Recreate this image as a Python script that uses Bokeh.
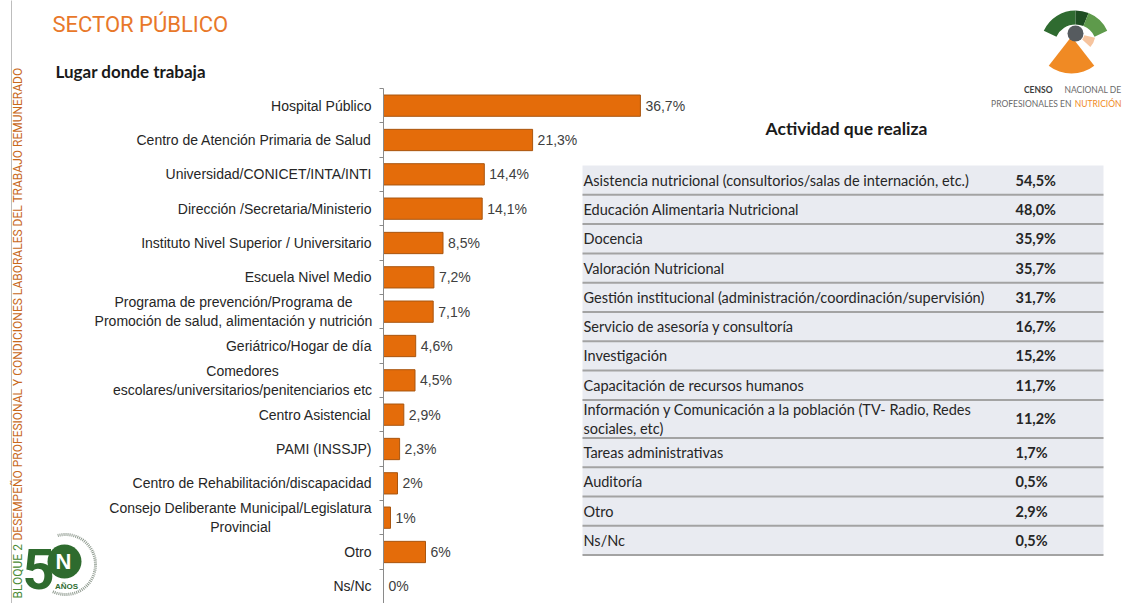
import numpy as np
from bokeh.plotting import figure
from bokeh.models import Range1d, LinearAxis, FixedTicker, ColumnDataSource
from bokeh.core.properties import value
from bokeh.embed import file_html
from bokeh.resources import INLINE

# ---------------- data ----------------
categories = [
    "Hospital Público",
    "Centro de Atención Primaria de Salud",
    "Universidad/CONICET/INTA/INTI",
    "Dirección /Secretaria/Ministerio",
    "Instituto Nivel Superior / Universitario",
    "Escuela Nivel Medio",
    "Programa de prevención/Programa de\nPromoción de salud, alimentación y nutrición",
    "Geriátrico/Hogar de día",
    "Comedores\nescolares/universitarios/penitenciarios etc",
    "Centro Asistencial",
    "PAMI (INSSJP)",
    "Centro de Rehabilitación/discapacidad",
    "Consejo Deliberante Municipal/Legislatura\nProvincial",
    "Otro",
    "Ns/Nc",
]
values = [36.7, 21.3, 14.4, 14.1, 8.5, 7.2, 7.1, 4.6, 4.5, 2.9, 2.3, 2, 1, 6, 0]

activities = [
    "Asistencia nutricional (consultorios/salas de internación, etc.)",
    "Educación Alimentaria Nutricional",
    "Docencia",
    "Valoración Nutricional",
    "Gestión institucional (administración/coordinación/supervisión)",
    "Servicio de asesoría y consultoría",
    "Investigación",
    "Capacitación de recursos humanos",
    "Información y Comunicación a la población (TV- Radio, Redes\nsociales, etc)",
    "Tareas administrativas",
    "Auditoría",
    "Otro",
    "Ns/Nc",
]
activity_values = [54.5, 48.0, 35.9, 35.7, 31.7, 16.7, 15.2, 11.7, 11.2, 1.7, 0.5, 2.9, 0.5]

title_text = "SECTOR PÚBLICO"
subtitle_text = "Lugar donde trabaja"
table_title = "Actividad que realiza"
side_part1 = "BLOQUE 2"
side_part2 = "DESEMPEÑO PROFESIONAL Y CONDICIONES LABORALES DEL TRABAJO REMUNERADO"


def pct_label(v):
    if isinstance(v, int):
        return f"{v}%"
    return f"{v:.1f}".replace(".", ",") + "%"


def pct_label1(v):
    return f"{v:.1f}".replace(".", ",") + "%"


# ---------------- layout constants (styles) ----------------
W, H = 1124, 603
AX_X = 383           # screen x of bar axis
TOP = 88             # screen y of first category band top
PX_PER_PCT = 7.0
frame_w = W - AX_X
n = len(categories)

ORANGE = "#E46C0A"
LABEL_FONT = value("Liberation Sans")
COND = value("Roboto")
CAL = value("Lato")

p = figure(
    width=W, height=H,
    x_range=Range1d(0, frame_w / PX_PER_PCT),
    y_range=Range1d(0, n),
    output_backend="svg", toolbar_location=None,
    x_axis_location=None, y_axis_location=None,
    min_border_left=AX_X, min_border_top=TOP,
    min_border_right=0, min_border_bottom=0,
    outline_line_color=None,
    background_fill_color="white", border_fill_color="white",
)
p.xgrid.visible = False
p.ygrid.visible = False

p.extra_x_ranges = {"px": Range1d(AX_X, W)}
p.extra_y_ranges = {"py": Range1d(H, TOP)}
kw = dict(x_range_name="px", y_range_name="py", level="annotation")

# axis with ticks between categories
ax = LinearAxis(
    ticker=FixedTicker(ticks=list(range(n + 1))),
    major_label_text_color=None,
    major_tick_in=0, major_tick_out=4,
    minor_tick_line_color=None,
    axis_line_color="#8a8a8a", major_tick_line_color="#8a8a8a",
)
p.add_layout(ax, "left")

# ---------------- bars ----------------
ypos = n - 0.5 - np.arange(n)   # first category at top
src = ColumnDataSource(dict(y=ypos, cat=categories, val=values,
                            lbl=[pct_label(v) for v in values]))
p.hbar(y="y", left=0, right="val", height=0.62, source=src,
       fill_color=ORANGE, line_color="#A9550F", line_width=1)
p.text(x="val", y="y", text="lbl", source=src, x_offset=5,
       text_baseline="middle", text_font=LABEL_FONT, text_font_size="14px",
       text_color="#404040")

# category labels (single line right aligned, multi-line centred)
LABEL_GAP = 12
multi_widths = {
    categories[6]: 276,
    categories[8]: 258,
    categories[12]: 262,
}
single_idx = [i for i, c in enumerate(categories) if "\n" not in c]
multi_idx = [i for i, c in enumerate(categories) if "\n" in c]
p.text(x=0, y=ypos[single_idx], text=[categories[i] for i in single_idx],
       x_offset=-LABEL_GAP, text_align="right",
       text_baseline="middle", text_font=LABEL_FONT, text_font_size="14px",
       text_color="#262626", level="annotation")
p.text(x=0, y=ypos[multi_idx], text=[categories[i] for i in multi_idx],
       x_offset=[-(LABEL_GAP + multi_widths[categories[i]] / 2) for i in multi_idx],
       text_align="center", text_baseline="middle", text_font=LABEL_FONT,
       text_font_size="14px", text_line_height=1.2, text_color="#262626",
       level="annotation")

# ---------------- headings ----------------
p.segment(x0=[11], y0=[0], x1=[11], y1=[H], line_color="#bdbdbd", line_width=1, **kw)
p.text(x=[52], y=[24], text=[title_text], text_font=COND, text_font_size="22px",
       text_color="#E8782A", text_baseline="middle", **kw)
p.text(x=[55], y=[71], text=[subtitle_text], text_font=CAL, text_font_size="17px",
       text_font_style="bold", text_color="#1a1a1a", text_baseline="middle", **kw)
p.text(x=[17], y=[598], text=[side_part1], angle=np.pi / 2, text_font=COND,
       text_font_size="12px", text_color="#4A8A36", text_baseline="middle", **kw)
p.text(x=[17], y=[540], text=[side_part2], angle=np.pi / 2, text_font=COND,
       text_font_size="12px", text_color="#C8691C", text_baseline="middle", **kw)

# ---------------- table ----------------
TABLE_TOP = 165
ROW_H = 29.3
EXTRA_LINE = 8.7
T_LEFT, T_RIGHT = 582, 1103
row_h = np.array([ROW_H + EXTRA_LINE * a.count("\n") for a in activities])
tops = TABLE_TOP + np.concatenate([[0], np.cumsum(row_h)[:-1]])
bottoms = tops + row_h
centers = (tops + bottoms) / 2

p.text(x=[846], y=[128], text=[table_title], text_align="center", text_baseline="middle",
       text_font=CAL, text_font_size="17.5px", text_font_style="bold", text_color="#1a1a1a", **kw)
p.quad(left=T_LEFT, right=T_RIGHT, top=tops, bottom=bottoms, fill_color="#E9EBF1",
       line_color=None, **kw)
p.segment(x0=T_LEFT, x1=T_RIGHT, y0=bottoms, y1=bottoms, line_color="#A3A3A3",
          line_width=2, **kw)
p.text(x=T_LEFT + 1, y=centers, text=activities, text_baseline="middle", text_font=CAL,
       text_font_size="14.5px", text_line_height=1.15, text_color="#262626", **kw)
p.text(x=1015, y=centers, text=[pct_label1(v) for v in activity_values],
       text_baseline="middle", text_font=CAL, text_font_size="14.5px",
       text_font_style="bold", text_color="#262626", **kw)

# ---------------- top-right logo ----------------
deg = np.pi / 180
cx, cy = 1075, 33
p.annular_wedge(x=[cx] * 3, y=[45] * 3, inner_radius=21, outer_radius=35,
                start_angle=[90 * deg, 68 * deg, 25 * deg],
                end_angle=[155 * deg, 90 * deg, 68 * deg],
                fill_color=["#2F6B30", "#1E4D22", "#5E9A4B"], line_color=None, **kw)
p.wedge(x=[cx - 4], y=[cy + 3], radius=37, start_angle=232 * deg, end_angle=308 * deg,
        fill_color="#F08A24", line_color=None, **kw)
p.annular_wedge(x=[cx], y=[cy], inner_radius=9, outer_radius=20,
                start_angle=318 * deg, end_angle=348 * deg,
                fill_color="#F6C49E", line_color=None, **kw)
p.ellipse(x=[cx], y=[cy], width=16, height=16, fill_color="#565B5F", line_color=None, **kw)
p.text(x=[1121], y=[89], text=["NACIONAL DE"], text_font=CAL, text_font_size="8.5px",
       text_color="#6a6a6a", text_align="right", text_baseline="middle", **kw)
p.text(x=[1052], y=[89], text=["CENSO"], text_font=CAL, text_font_size="8.5px",
       text_font_style="bold", text_color="#3d3d3d", text_align="right",
       text_baseline="middle", **kw)
p.text(x=[1121], y=[103], text=["NUTRICIÓN"], text_font=CAL, text_font_size="8.5px",
       text_color="#F08A24", text_align="right", text_baseline="middle", **kw)
p.text(x=[1071], y=[103], text=["PROFESIONALES EN"], text_font=CAL, text_font_size="8.5px",
       text_color="#6a6a6a", text_align="right", text_baseline="middle", **kw)

# ---------------- bottom-left logo ----------------
GREEN = "#2E6B2E"
p.arc(x=[65], y=[564], radius=30, start_angle=-115 * deg, end_angle=105 * deg,
      line_color="#8f9a8f", line_width=3, line_dash="1 1", **kw)
p.text(x=[22], y=[568], text=["5"], text_font=COND, text_font_size="56px",
       text_font_style="bold", text_color=GREEN, text_baseline="middle", **kw)
p.ellipse(x=[64], y=[561], width=34, height=34, fill_color=GREEN, line_color=None, **kw)
p.text(x=[63], y=[561], text=["N"], text_font=LABEL_FONT, text_font_size="22px",
       text_font_style="bold", text_color="white", text_align="center",
       text_baseline="middle", **kw)
p.text(x=[66], y=[586], text=["AÑOS"], text_font=LABEL_FONT, text_font_size="8px",
       text_font_style="bold", text_color=GREEN, text_align="center",
       text_baseline="middle", **kw)

open("out.html", "w").write(file_html(p, INLINE))
